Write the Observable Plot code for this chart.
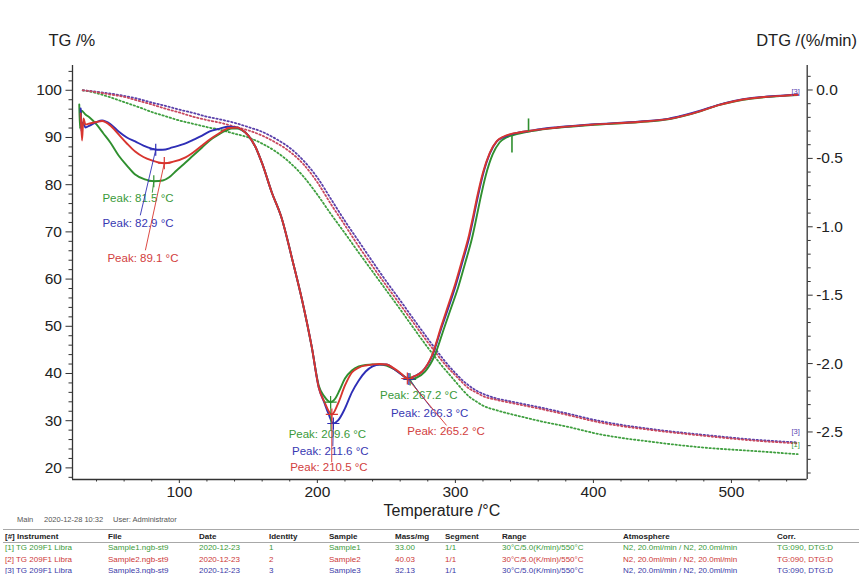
<!DOCTYPE html>
<html>
<head>
<meta charset="utf-8">
<script src="https://cdn.jsdelivr.net/npm/d3@7"></script>
<script src="https://cdn.jsdelivr.net/npm/@observablehq/plot@0.6"></script>
<style>
  html, body { margin: 0; padding: 0; background: #fff; }
  #wrap { position: relative; width: 859px; height: 574px; overflow: hidden; font-family: "Liberation Sans", Arial, sans-serif; }
  #chart { position: absolute; left: 0; top: 0; }
  .cell { position: absolute; white-space: nowrap; font-size: 8px; line-height: 10px; }
  .hdr { font-weight: bold; color: #222; }
  .info { position: absolute; white-space: nowrap; font-size: 7.5px; line-height: 9px; color: #555; }
  .hline { position: absolute; left: 3px; width: 856px; height: 0; border-top: 1px solid #a8a8a8; }
</style>
</head>
<body>
<div id="wrap"><div id="chart"></div></div>
<script>
// ---------- TG curves (left axis, %) ----------
const tgTemp = [30,40,50,60,70,80,90,100,110,120,130,140,150,160,170,180,190,200,210,220,230,240,250,260,270,280,285,290,295,300,305,310,315,320,330,340,350,360,380,405,440,480,520,548];
const tgSample1 = [100.0,99.4,98.5,97.5,96.5,95.4,94.5,93.6,92.9,92.2,91.6,90.8,90.0,88.7,87.0,84.7,81.7,77.9,73.7,69.7,65.6,61.6,57.6,53.6,49.5,45.5,43.6,41.7,40.0,38.3,36.6,35.1,34.1,33.2,32.2,31.4,30.7,30.0,28.8,27.1,25.6,24.3,23.5,22.9];
const tgSample2 = [100.0,99.6,99.1,98.6,97.8,97.0,96.1,95.3,94.4,93.7,93.1,92.3,91.5,90.4,88.9,87.0,84.3,80.5,75.8,71.4,66.9,62.7,58.6,54.6,50.6,46.6,44.7,42.8,41.1,39.6,38.1,36.8,36.0,35.2,34.4,33.8,33.2,32.6,31.3,29.6,28.1,26.8,25.7,25.2];
const tgSample3 = [100.0,99.7,99.3,98.8,98.2,97.4,96.7,95.9,95.2,94.4,93.8,93.1,92.2,91.2,89.7,87.8,85.1,81.5,76.9,72.3,68.0,63.7,59.5,55.5,51.4,47.4,45.4,43.5,41.7,40.1,38.6,37.4,36.4,35.7,34.7,34.1,33.5,32.9,31.6,29.9,28.3,27.0,25.9,25.4];

// ---------- DTG curves (right axis, %/min) ----------
const dtgTemp1 = [27.5,28,29,32,35,40,45,50,56,62,68,75,81.5,88,92.4,98,104.5,110,116.5,122,128.6,134,138,142,145,150,155,160,167,174,182,189,196,201,205,209.6,213,216,220,225,230,235,240,245,250,256,262,267.2,272,278,285,292,297,302,307,312,315,318,322,327,332,337,342,348,355,365,374,398,434,454,465,478,490,502,515,526,540,548];
const dtgSample1 = [-0.106,-0.281,-0.150,-0.179,-0.201,-0.252,-0.318,-0.384,-0.479,-0.552,-0.618,-0.654,-0.667,-0.662,-0.640,-0.588,-0.530,-0.479,-0.420,-0.369,-0.325,-0.296,-0.281,-0.281,-0.292,-0.333,-0.413,-0.537,-0.749,-0.932,-1.246,-1.539,-1.882,-2.160,-2.240,-2.282,-2.255,-2.197,-2.109,-2.050,-2.021,-2.010,-2.007,-2.007,-2.014,-2.043,-2.087,-2.116,-2.102,-2.058,-1.941,-1.736,-1.590,-1.444,-1.268,-1.086,-0.947,-0.800,-0.625,-0.471,-0.384,-0.347,-0.329,-0.314,-0.301,-0.285,-0.276,-0.256,-0.234,-0.214,-0.190,-0.154,-0.113,-0.084,-0.062,-0.051,-0.041,-0.037];
const dtgTemp2 = [28.5,29.5,30.5,32,35,40,44,50,56,62,68,74,80,85,89.1,95,104.5,110,116.5,122,128.6,136,142,145,150,155,160,167,174,182,189,196,201,205,210.5,215,220,225,230,235,240,245,250,256,261,265.2,270,276,283,290,295,300,305,310,313,316,320,325,330,335,340,346,353,365,374,398,434,454,465,478,490,502,515,526,540,548];
const dtgSample2 = [-0.172,-0.369,-0.208,-0.252,-0.245,-0.234,-0.227,-0.260,-0.325,-0.391,-0.450,-0.490,-0.515,-0.530,-0.535,-0.526,-0.493,-0.457,-0.406,-0.362,-0.318,-0.278,-0.274,-0.289,-0.333,-0.413,-0.537,-0.749,-0.932,-1.246,-1.539,-1.882,-2.175,-2.277,-2.372,-2.292,-2.160,-2.065,-2.029,-2.014,-2.007,-2.003,-2.007,-2.039,-2.076,-2.109,-2.094,-2.058,-1.941,-1.721,-1.568,-1.414,-1.239,-1.056,-0.917,-0.771,-0.603,-0.457,-0.373,-0.340,-0.322,-0.311,-0.300,-0.284,-0.274,-0.254,-0.232,-0.213,-0.189,-0.152,-0.112,-0.082,-0.060,-0.049,-0.040,-0.035];
const dtgTemp3 = [28.5,29,30,32,35,40,44,50,56,62,68,74,80,84,88,95,104.5,110,116.5,122,128.6,136,142,145,150,155,160,167,174,182,189,196,201,205,208,211.6,215,220,225,230,235,240,245,250,256,261,266.3,270,276,283,290,295,300,305,310,313,316,320,325,330,335,340,346,353,365,374,398,434,454,465,478,490,502,515,526,540,548];
const dtgSample3 = [-0.135,-0.303,-0.238,-0.274,-0.260,-0.234,-0.223,-0.249,-0.303,-0.347,-0.376,-0.406,-0.428,-0.437,-0.437,-0.420,-0.391,-0.365,-0.333,-0.303,-0.284,-0.269,-0.274,-0.289,-0.333,-0.413,-0.537,-0.749,-0.932,-1.246,-1.539,-1.882,-2.175,-2.284,-2.365,-2.438,-2.416,-2.328,-2.211,-2.124,-2.058,-2.021,-2.007,-2.007,-2.043,-2.080,-2.113,-2.094,-2.058,-1.948,-1.736,-1.590,-1.436,-1.261,-1.078,-0.939,-0.793,-0.618,-0.464,-0.376,-0.344,-0.325,-0.311,-0.300,-0.281,-0.272,-0.252,-0.230,-0.211,-0.186,-0.150,-0.110,-0.080,-0.058,-0.048,-0.038,-0.033];

// green step markers on sample 1 DTG
const markT = [341, 353];
const markFrom = [-0.330, -0.300];
const markTo = [-0.457, -0.208];

// ---------- Peak annotations ----------
const peakSample = [1,3,2,1,3,2,1,3,2];
const peakTemp = [81.5,82.9,89.1,209.6,211.6,210.5,267.2,266.3,265.2];
const peakDTG = [-0.667,-0.437,-0.535,-2.282,-2.438,-2.372,-2.116,-2.113,-2.109];
const labelT = [44.3,44.3,47.9,179.2,181.6,180.3,245.4,253.3,265.2];
const labelTG = [77.1,71.8,64.4,27.2,23.5,20.1,35.3,31.5,27.7];
const leaderT = [80.4,71.7,75.4,209.8,211.2,210.4,273.3,282.7,293.6];
const leaderTG = [78.3,73.5,66.1,27.9,24.6,21.2,36.0,32.6,29.0];

// ---------- Axes ----------
const xTicks = [100,200,300,400,500];
const tgTicks = [20,30,40,50,60,70,80,90,100];
const dtgTicks = [0.0,-0.5,-1.0,-1.5,-2.0,-2.5];

// ---------- Footer table ----------
const infoText = ["Main", "2020-12-28 10:32", "User: Administrator"];
const tableHeader = ["[#] Instrument","File","Date","Identity","Sample","Mass/mg","Segment","Range","Atmosphere","Corr."];
const tableRow1 = ["[1] TG 209F1 Libra","Sample1.ngb-st9","2020-12-23","1","Sample1","33.00","1/1","30°C/5.0(K/min)/550°C","N2, 20.0ml/min / N2, 20.0ml/min","TG:090, DTG:D"];
const tableRow2 = ["[2] TG 209F1 Libra","Sample2.ngb-st9","2020-12-23","2","Sample2","40.03","1/1","30°C/5.0(K/min)/550°C","N2, 20.0ml/min / N2, 20.0ml/min","TG:090, DTG:D"];
const tableRow3 = ["[3] TG 209F1 Libra","Sample3.ngb-st9","2020-12-23","3","Sample3","32.13","1/1","30°C/5.0(K/min)/550°C","N2, 20.0ml/min / N2, 20.0ml/min","TG:090, DTG:D"];

// ================= drawing =================
const solid = {1: "#2f8f2f", 2: "#d8352f", 3: "#2e2eb6"};
const dotted = {1: "#3f9f3f", 2: "#c8485e", 3: "#5a40aa"};
const textCol = {1: "#3a9a3a", 2: "#d24040", 3: "#3838b2"};

// right axis (DTG) mapped onto the left (TG) scale
const toTG = d => 100.06 + 28.98 * d;
const fromTG = v => (v - 100.06) / 28.98;

const tgData = {1: tgSample1, 2: tgSample2, 3: tgSample3};
const dtgData = {1: [dtgTemp1, dtgSample1], 2: [dtgTemp2, dtgSample2], 3: [dtgTemp3, dtgSample3]};

const tgRows = s => tgTemp.map((T, i) => ({T, v: tgData[s][i]}));
const dtgRows = s => dtgData[s][0].map((T, i) => ({T, v: toTG(dtgData[s][1][i])}));

const minorX = d3.range(40, 560, 20).filter(v => v % 100 !== 0);
const minorTG = d3.range(18, 105, 2).filter(v => v % 10 !== 0);
const minorDTG = d3.range(1, -29, -1).filter(v => v % 5 !== 0).map(v => toTG(v / 10));

const peaks = peakTemp.map((T, i) => ({
  s: peakSample[i], T, y: toTG(peakDTG[i]),
  lx: labelT[i], ly: labelTG[i], ex: leaderT[i], ey: leaderTG[i],
  text: `Peak: ${peakTemp[i].toFixed(1)} °C`
}));

const seriesOrder = [1, 3, 2];
const marks = [];

// axis lines
marks.push(Plot.ruleX([22.6], {stroke: "#333", strokeWidth: 1.3}));
marks.push(Plot.ruleX([554.9], {stroke: "#333", strokeWidth: 1.3}));
marks.push(Plot.ruleY([17.54], {stroke: "#333", strokeWidth: 1.3}));

// axes
marks.push(Plot.axisX(xTicks, {tickSize: 4, tickPadding: 2, label: null, stroke: "#333"}));
marks.push(Plot.axisX(minorX, {tickSize: 2.5, tickFormat: () => "", label: null, stroke: "#333"}));
marks.push(Plot.axisY(tgTicks, {anchor: "left", tickSize: 6.5, tickPadding: 4, label: null, stroke: "#333"}));
marks.push(Plot.axisY(minorTG, {anchor: "left", tickSize: 3.5, tickFormat: () => "", label: null, stroke: "#333"}));
marks.push(Plot.axisY(dtgTicks.map(toTG), {anchor: "right", tickSize: 5, tickPadding: 4, label: null, stroke: "#333",
  tickFormat: v => { const d = Math.round(fromTG(v) * 10) / 10; return (d === 0 ? 0 : d).toFixed(1); }}));
marks.push(Plot.axisY(minorDTG, {anchor: "right", tickSize: 3, tickFormat: () => "", label: null, stroke: "#333"}));

// TG dotted curves
for (const s of seriesOrder) {
  marks.push(Plot.line(tgRows(s), {x: "T", y: "v", curve: "monotone-x", stroke: dotted[s], strokeWidth: 1.8, strokeDasharray: "1.4,2.4"}));
}
// DTG solid curves
for (const s of seriesOrder) {
  marks.push(Plot.line(dtgRows(s), {x: "T", y: "v", curve: "monotone-x", stroke: solid[s], strokeWidth: 1.9}));
}
// green step markers
marks.push(Plot.link(markT.map((T, i) => ({T, a: toTG(markFrom[i]), b: toTG(markTo[i])})),
  {x1: "T", x2: "T", y1: "a", y2: "b", stroke: solid[1], strokeWidth: 1.6}));

// peak leaders, crosses and labels
for (const s of seriesOrder) {
  const p = peaks.filter(d => d.s === s);
  marks.push(Plot.link(p, {x1: "T", y1: "y", x2: "ex", y2: "ey", stroke: solid[s], strokeWidth: 0.9}));
  marks.push(Plot.dot(p, {x: "T", y: "y", symbol: "plus", r: 4, stroke: solid[s], strokeWidth: 1.2}));
  marks.push(Plot.text(p, {x: "lx", y: "ly", text: "text", textAnchor: "start", lineAnchor: "middle", fill: textCol[s], fontSize: 11.5}));
}

// curve id tags at right end
marks.push(Plot.text([{T: 546.5, v: toTG(-0.01), t: "[3]", c: "#5a3fb0"}, {T: 546.5, v: 27.6, t: "[3]", c: "#5a3fb0"}, {T: 546.5, v: 25.0, t: "[1]", c: "#3a9a3a"}],
  {x: "T", y: "v", text: "t", fill: d => d.c, fontSize: 7.5, textAnchor: "middle", lineAnchor: "middle"}));

// axis titles
marks.push(Plot.text(["TG /%"], {frameAnchor: "top-left", dx: -24, dy: -25, textAnchor: "start", lineAnchor: "middle", fontSize: 16.5, fill: "#222"}));
marks.push(Plot.text(["DTG /(%/min)"], {frameAnchor: "top-right", dx: -51, dy: -25, textAnchor: "start", lineAnchor: "middle", fontSize: 16.5, fill: "#222"}));
marks.push(Plot.text(["Temperature /°C"], {frameAnchor: "bottom", dx: 2, dy: 31, textAnchor: "middle", lineAnchor: "middle", fontSize: 16, fill: "#222"}));

const chart = Plot.plot({
  width: 859,
  height: 520,
  marginLeft: 72,
  marginRight: 52.3,
  marginTop: 65,
  marginBottom: 41,
  x: {domain: [22.6, 554.9], label: null},
  y: {domain: [17.54, 105.25], label: null},
  style: {fontFamily: "'Liberation Sans', Arial, sans-serif", fontSize: "15.5px", color: "#222", background: "transparent", overflow: "visible"},
  marks
});
document.getElementById("chart").appendChild(chart);

// ---------- footer ----------
const wrap = document.getElementById("wrap");
const infoX = [17, 44, 113];
infoText.forEach((t, i) => {
  const el = document.createElement("div");
  el.className = "info"; el.textContent = t;
  el.style.left = infoX[i] + "px"; el.style.top = "515px";
  wrap.appendChild(el);
});
[529, 542].forEach(y => {
  const el = document.createElement("div");
  el.className = "hline"; el.style.top = y + "px";
  wrap.appendChild(el);
});
const colX = [5, 108, 199, 269, 329, 395, 445, 502, 623, 777];
const rows = [[tableHeader, 536.5, "#222", true], [tableRow1, 548, "#3a9a3a", false], [tableRow2, 559.5, "#cc3838", false], [tableRow3, 570.5, "#3a3aa8", false]];
rows.forEach(([cells, yc, col, bold]) => {
  cells.forEach((t, j) => {
    const el = document.createElement("div");
    el.className = "cell" + (bold ? " hdr" : "");
    el.textContent = t;
    el.style.left = colX[j] + "px";
    el.style.top = (yc - 5) + "px";
    if (!bold) el.style.color = col;
    wrap.appendChild(el);
  });
});
</script>
</body>
</html>
